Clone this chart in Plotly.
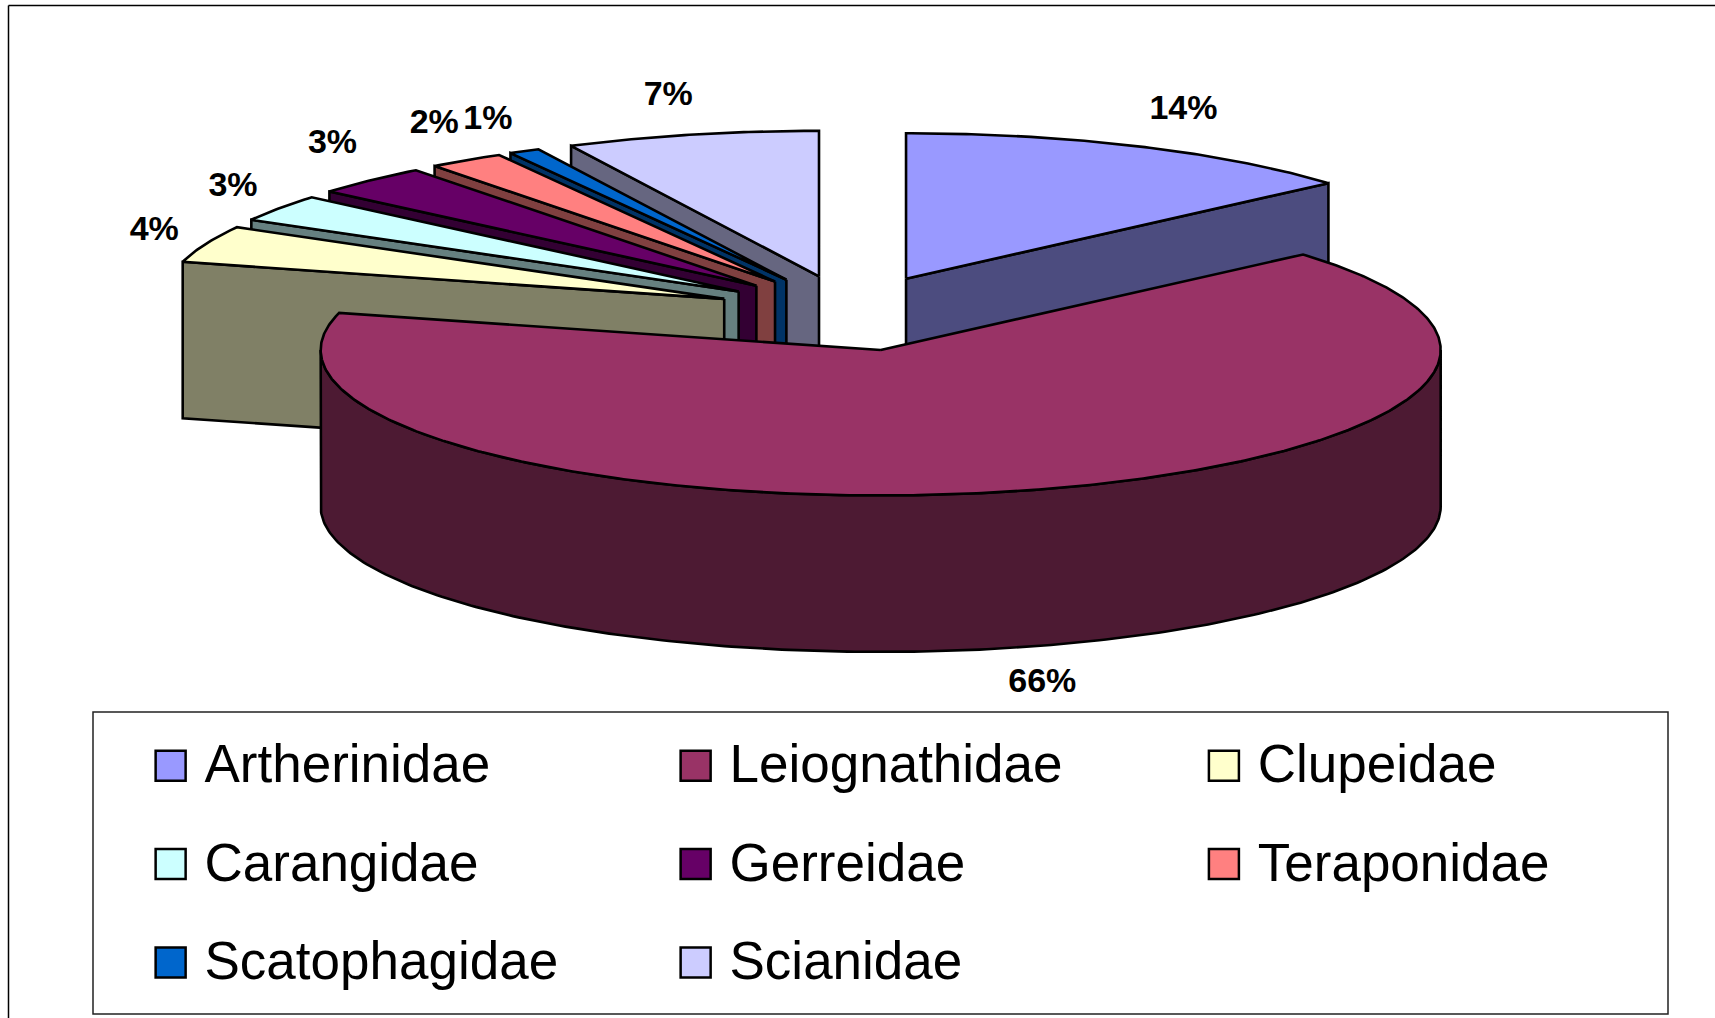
import numpy as np
import plotly.graph_objects as go

# ---- data ----
families = ["Artherinidae", "Leiognathidae", "Clupeidae", "Carangidae",
            "Gerreidae", "Teraponidae", "Scatophagidae", "Scianidae"]
shares = [13.6, 65.5, 4.1, 3.0, 3.4, 2.2, 0.9, 7.3]

# ---- styles ----
top_colors = ["#9999FF", "#993366", "#FFFFCC", "#CCFFFF", "#660066", "#FF8080", "#0066CC", "#CCCCFF"]
side_colors = ["#4C4C7F", "#4D1A33", "#808066", "#668080", "#330033", "#804040", "#003366", "#666680"]

W, H = 1715, 1018
S = W / 1568  # layout below was measured on the 1568-wide view

CX, CY = 777 * S, 286.3 * S      # pie centre before explosion
RX, RY = 512 * S, 133 * S        # ellipse radii of the top face
EX, EY = 124 * S, 34.6 * S       # explosion offset
DEPTH = 143 * S                  # thickness
LW = 2.6

# label anchor points (measured, 1568-wide view), same order as families
label_xy = [(1082, 101), (953, 625), (141, 212), (213, 171), (304, 132), (397, 114), (446, 110), (611, 88)]
legend_cols = [156, 636, 1119]
legend_rows = [700, 790, 880]
legend_text_gap = 31
legend_text_dy = 3

# ---- geometry from the values ----
total = sum(shares)
edges = np.concatenate([[0], np.cumsum(shares)]) / total * 360.0


def slice_geometry(a0, a1):
    mid = np.radians((a0 + a1) / 2)
    ax = CX + EX * np.sin(mid)
    ay = CY - EY * np.cos(mid)
    th = np.radians(np.linspace(a0, a1, max(int(a1 - a0) * 2, 6)))
    return ax, ay, ax + RX * np.sin(th), ay - RY * np.cos(th)


def poly(x, y, fill, name):
    return go.Scatter(x=list(x) + [x[0]], y=list(y) + [y[0]], mode="lines", fill="toself",
                      fillcolor=fill, line=dict(color="black", width=LW), name=name,
                      hoverinfo="skip", showlegend=False)


fig = go.Figure()

# painter's order: back slices first, the big front slice last
order = [7, 6, 5, 4, 3, 2, 0, 1]
for i in order:
    ax, ay, ex, ey = slice_geometry(edges[i], edges[i + 1])
    name = families[i]
    if i == 0:
        # visible inner wall on the closing radius
        wx = [ax, ex[-1], ex[-1], ax]
        wy = [ay, ey[-1], ey[-1] + DEPTH, ay + DEPTH]
        fig.add_trace(poly(wx, wy, side_colors[i], name))
    elif i == 1:
        # curved outer wall across the front
        th = np.radians(np.linspace(90, 270, 240))
        ox = ax + RX * np.sin(th)
        oy = ay - RY * np.cos(th)
        wx = np.concatenate([ox, ox[::-1]])
        wy = np.concatenate([oy, oy[::-1] + DEPTH])
        fig.add_trace(poly(wx, wy, side_colors[i], name))
    else:
        # visible inner wall on the opening radius
        wx = [ax, ex[0], ex[0], ax]
        wy = [ay, ey[0], ey[0] + DEPTH, ay + DEPTH]
        fig.add_trace(poly(wx, wy, side_colors[i], name))
    tx = np.concatenate([[ax], ex])
    ty = np.concatenate([[ay], ey])
    fig.add_trace(poly(tx, ty, top_colors[i], name))

# percentage labels
fig.add_trace(go.Scatter(
    x=[p[0] * S for p in label_xy], y=[p[1] * S for p in label_xy],
    mode="text", text=[f"{v:.0f}%" for v in shares], textposition="middle center",
    textfont=dict(family="Liberation Sans", size=34, color="black", weight="bold"),
    hoverinfo="skip", showlegend=False))

# legend entries
lx, ly = [], []
for k in range(len(families)):
    lx.append(legend_cols[k % 3] * S)
    ly.append(legend_rows[k // 3] * S)
fig.add_trace(go.Scatter(
    x=lx, y=ly, mode="markers",
    marker=dict(symbol="square", size=30, color=top_colors, line=dict(color="black", width=2.5)),
    hoverinfo="skip", showlegend=False))
fig.add_trace(go.Scatter(
    x=[v + legend_text_gap * S for v in lx], y=[v + legend_text_dy * S for v in ly],
    mode="text", text=families, textposition="middle right",
    textfont=dict(family="Liberation Sans", size=53, color="black"),
    hoverinfo="skip", showlegend=False))

fig.update_layout(
    width=W, height=H, margin=dict(l=0, r=0, t=0, b=0),
    paper_bgcolor="white", plot_bgcolor="white", showlegend=False,
    xaxis=dict(range=[0, W], visible=False, fixedrange=True),
    yaxis=dict(range=[H, 0], visible=False, fixedrange=True),
    shapes=[
        dict(type="rect", x0=93, x1=1668, y0=712, y1=1014, line=dict(color="#222222", width=1.5), layer="below"),
        dict(type="line", x0=8.5, x1=1715, y0=5.5, y1=5.5, line=dict(color="black", width=1.5)),
        dict(type="line", x0=8.5, x1=8.5, y0=5.5, y1=1018, line=dict(color="black", width=1.5)),
    ],
)

fig.write_html("out.html", config={"displayModeBar": False},
               post_script="document.body.style.margin='0';document.documentElement.style.overflow='hidden';")
